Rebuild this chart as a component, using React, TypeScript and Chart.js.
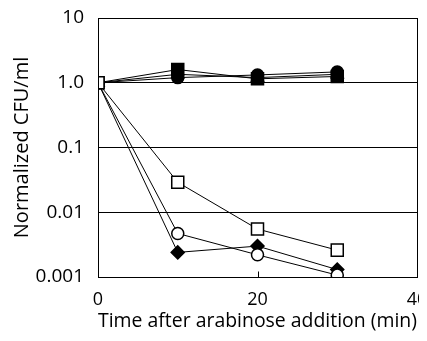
import React, { useEffect, useRef } from "react";
import { Chart, registerables } from "chart.js";

Chart.register(...registerables);

const times = [0, 10, 20, 30];
const filledSquare = [1.0, 1.6, 1.15, 1.25];
const filledCircle = [1.0, 1.2, 1.32, 1.47];
const filledTriangle = [1.0, 1.35, 1.2, 1.35];
const openSquare = [1.0, 0.029, 0.0055, 0.0026];
const openCircle = [1.0, 0.0047, 0.0022, 0.00107];
const filledDiamond = [1.0, 0.0024, 0.003, 0.0013];
const xTicks = [0, 20, 40];
const yTicks = [0.001, 0.01, 0.1, 1, 10];
const yTickLabels: Record<string, string> = {
  "10": "10",
  "1": "1.0",
  "0.1": "0.1",
  "0.01": "0.01",
  "0.001": "0.001",
};

const FONT = "'Open Sans', sans-serif";
const FS = 19;
const TFS = 20;

const boxPlugin = {
  id: "box",
  afterDraw(chart: any) {
    const { ctx, chartArea } = chart;
    ctx.save();
    ctx.strokeStyle = "#000";
    ctx.lineWidth = 1;
    const l = Math.round(chartArea.left) + 0.5;
    const t = Math.round(chartArea.top) + 0.5;
    const r = Math.round(chartArea.right) + 0.5;
    const b = Math.round(chartArea.bottom) + 0.5;
    ctx.strokeRect(l, t, r - l, b - t);
    const xs = chart.scales.x;
    ctx.beginPath();
    for (const v of xTicks) {
      const px = Math.round(xs.getPixelForValue(v)) + 0.5;
      ctx.moveTo(px, b);
      ctx.lineTo(px, b - 6);
    }
    ctx.stroke();
    ctx.restore();
  },
};

function mk(label: string, data: number[], style: string, fill: boolean, radius: number) {
  return {
    label,
    data: times.map((t, i) => ({ x: t, y: data[i] })),
    borderColor: "#000",
    borderWidth: 1,
    pointStyle: style,
    pointRadius: radius,
    pointBackgroundColor: fill ? "#000" : "#fff",
    pointBorderColor: "#000",
    pointBorderWidth: 1.5,
    showLine: true,
    tension: 0,
  };
}

export default function App() {
  const ref = useRef<HTMLCanvasElement>(null);
  useEffect(() => {
    const chart = new Chart(ref.current!, {
      type: "scatter",
      data: {
        datasets: [
          mk("open square", openSquare, "rect", false, 8.5),
          mk("open circle", openCircle, "circle", false, 6),
          mk("filled diamond", filledDiamond, "rectRot", true, 6.5),
          mk("filled triangle", filledTriangle, "triangle", true, 7),
          mk("filled circle", filledCircle, "circle", true, 6),
          mk("filled square", filledSquare, "rect", true, 8.5),
        ] as any,
      },
      options: {
        animation: false,
        responsive: false,
        layout: { padding: { left: 0, right: 10, top: 9, bottom: 0 } },
        plugins: { legend: { display: false }, tooltip: { enabled: false } },
        scales: {
          x: {
            type: "linear",
            min: 0,
            max: 40,
            afterBuildTicks(s: any) {
              s.ticks = xTicks.map((v) => ({ value: v }));
            },
            ticks: {
              color: "#000",
              font: { family: FONT, size: 18 },
              padding: 12,
              maxRotation: 0,
            },
            grid: { display: false, drawTicks: false },
            border: { color: "#000" },
            title: {
              display: true,
              text: "Time after arabinose addition (min)",
              color: "#000",
              font: { family: FONT, size: TFS },
              padding: { top: 0, bottom: 0 },
            },
            afterFit(s: any) {
              s.height = 56;
              s.paddingLeft = 0;
              s.paddingRight = 0;
            },
          },
          y: {
            type: "logarithmic",
            min: 0.001,
            max: 10,
            ticks: {
              color: "#000",
              font: { family: FONT, size: FS },
              padding: 14,
              callback: (v: any) => yTickLabels[String(v)] ?? null,
              autoSkip: false,
            },
            afterBuildTicks(s: any) {
              s.ticks = yTicks.map((v) => ({ value: v }));
            },
            grid: { color: "#000", drawTicks: false, lineWidth: 1 },
            border: { color: "#000" },
            title: {
              display: true,
              text: "Normalized CFU/ml",
              color: "#000",
              font: { family: FONT, size: TFS },
              padding: { top: 2, bottom: 0 },
            },
            afterFit(s: any) {
              s.width = 90;
              s.paddingTop = 0;
              s.paddingBottom = 0;
            },
          },
        },
      },
      plugins: [boxPlugin],
    });
    return () => chart.destroy();
  }, []);
  return (
    <div style={{ width: 419, height: 325 }}>
      <canvas ref={ref} width={419} height={325} style={{ display: "block" }} />
    </div>
  );
}
